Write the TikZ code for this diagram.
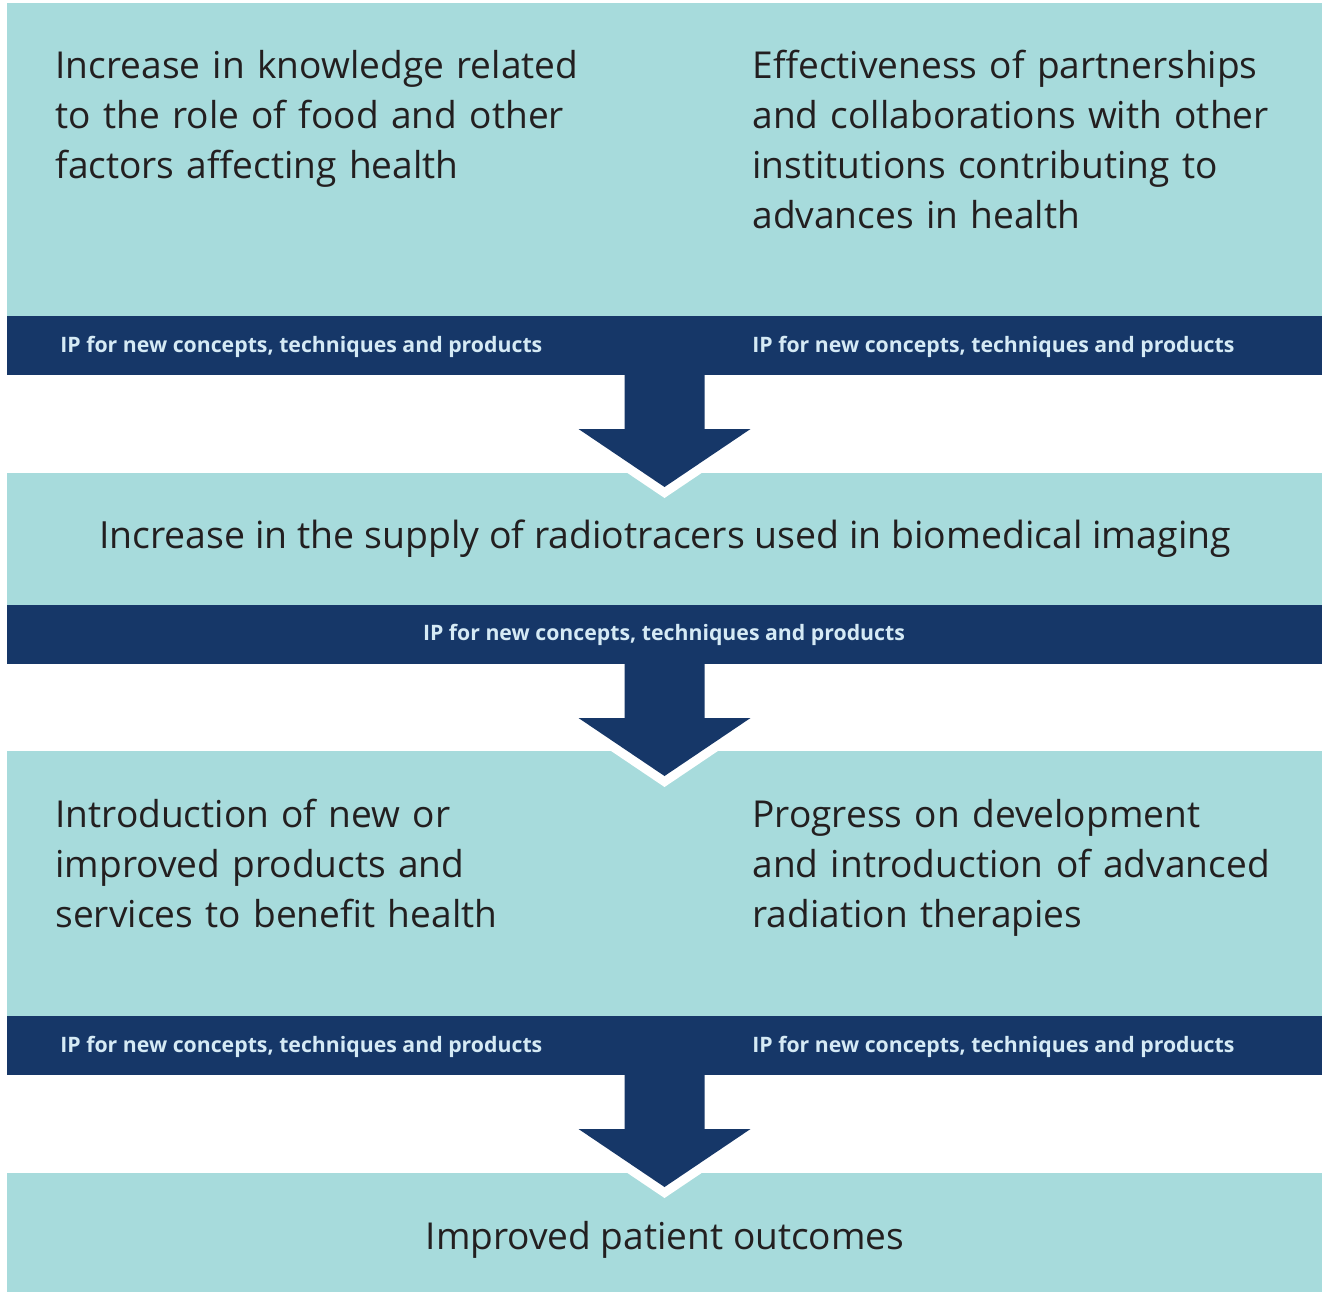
\documentclass[tikz,border=0pt]{standalone}
\usepackage{fontspec}
\setmainfont{Open Sans}
\definecolor{boxteal}{HTML}{A7DBDC}
\definecolor{bandnavy}{HTML}{163768}
\definecolor{iplight}{HTML}{D5EAF5}
\definecolor{inkgrey}{HTML}{231F20}
\tikzset{every picture/.style={line width=0.5pt}}

\begin{document}
\begin{tikzpicture}[x=1cm,y=1cm,
  panel/.style={fill=boxteal,inner sep=0,outer sep=0,minimum width=26.30cm},
  band/.style={fill=bandnavy,inner sep=0,outer sep=0,minimum width=26.30cm,minimum height=1.18cm},
  body/.style={text=inkgrey,inner sep=0,font=\fontsize{21.1}{28.45}\selectfont},
  iplabel/.style={text=iplight,inner sep=0,font=\bfseries\fontsize{12.1}{14}\selectfont},
  halo/.style={white,line width=0.365cm,line join=miter,miter limit=10}]
\useasboundingbox (0,0) rectangle (26.48,-25.84);
% panels and bands
\node[panel,minimum height=6.26cm] (box1) at (13.29,-3.19) {};
\node[band] (band1) at (13.29,-6.91) {};
\node[panel,minimum height=2.64cm] (box2) at (13.29,-10.78) {};
\node[band] (band2) at (13.29,-12.69) {};
\node[panel,minimum height=5.30cm] (box3) at (13.29,-17.67) {};
\node[band] (band3) at (13.29,-20.91) {};
\node[panel,minimum height=2.38cm] (box4) at (13.29,-24.65) {};
% white rim under the arrow heads
\draw[halo] (band1.south) ++(-1.72,-1.08) -- ++(1.72,-1.16) -- ++(1.72,1.16);
\draw[halo] (band2.south) ++(-1.72,-1.08) -- ++(1.72,-1.16) -- ++(1.72,1.16);
\draw[halo] (band3.south) ++(-1.72,-1.08) -- ++(1.72,-1.16) -- ++(1.72,1.16);
% block arrows
\fill[bandnavy] (band1.south) ++(-0.8,0.02) -- ++(0,-1.1) -- ++(-0.92,0) -- ++(1.72,-1.16)
  -- ++(1.72,1.16) -- ++(-0.92,0) -- ++(0,1.1) -- cycle;
\fill[bandnavy] (band2.south) ++(-0.8,0.02) -- ++(0,-1.1) -- ++(-0.92,0) -- ++(1.72,-1.16)
  -- ++(1.72,1.16) -- ++(-0.92,0) -- ++(0,1.1) -- cycle;
\fill[bandnavy] (band3.south) ++(-0.8,0.02) -- ++(0,-1.1) -- ++(-0.92,0) -- ++(1.72,-1.16)
  -- ++(1.72,1.16) -- ++(-0.92,0) -- ++(0,1.1) -- cycle;
% texts
\node[body,anchor=base west,text width=13cm,align=left] (t1a) at (1.10,-1.58)
  {Increase in knowledge related\\to the role of food and other\\factors affecting health};
\node[body,anchor=base west,text width=12cm,align=left] (t1b) at (15.04,-1.58)
  {Effectiveness of partnerships\\and collaborations with other\\institutions contributing to\\advances in health};
\node[iplabel,anchor=base west] (ip1a) at (1.20,-7.04) {IP for new concepts, techniques and products};
\node[iplabel,anchor=base west] (ip1b) at (15.04,-7.04) {IP for new concepts, techniques and products};
\node[body,anchor=base,font=\fontsize{21.3}{28.45}\selectfont] (t2) at (13.30,-10.96)
  {Increase in the supply of radiotracers used in biomedical imaging};
\node[iplabel,anchor=base] (ip2) at (13.28,-12.80) {IP for new concepts, techniques and products};
\node[body,anchor=base west,text width=13cm,align=left] (t3a) at (1.10,-16.54)
  {Introduction of new or\\improved products and\\services to benefit health};
\node[body,anchor=base west,text width=12cm,align=left] (t3b) at (15.04,-16.54)
  {Progress on development\\and introduction of advanced\\radiation therapies};
\node[iplabel,anchor=base west] (ip3a) at (1.20,-21.04) {IP for new concepts, techniques and products};
\node[iplabel,anchor=base west] (ip3b) at (15.04,-21.04) {IP for new concepts, techniques and products};
\node[body,anchor=base] (t4) at (13.30,-24.98) {Improved patient outcomes};
\end{tikzpicture}
\end{document}
